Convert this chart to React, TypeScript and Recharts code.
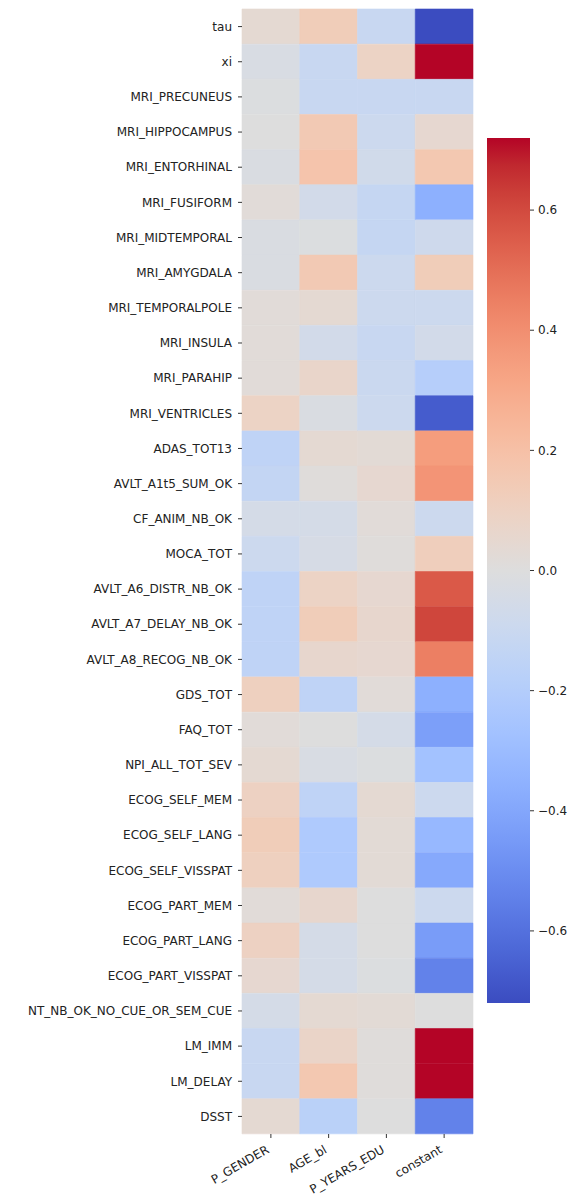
import React from "react";
import { BarChart, Bar, XAxis, YAxis, Cell } from "recharts";

const rowLabels = [
  "tau", "xi", "MRI_PRECUNEUS", "MRI_HIPPOCAMPUS", "MRI_ENTORHINAL", "MRI_FUSIFORM",
  "MRI_MIDTEMPORAL", "MRI_AMYGDALA", "MRI_TEMPORALPOLE", "MRI_INSULA", "MRI_PARAHIP",
  "MRI_VENTRICLES", "ADAS_TOT13", "AVLT_A1t5_SUM_OK", "CF_ANIM_NB_OK", "MOCA_TOT",
  "AVLT_A6_DISTR_NB_OK", "AVLT_A7_DELAY_NB_OK", "AVLT_A8_RECOG_NB_OK", "GDS_TOT", "FAQ_TOT",
  "NPI_ALL_TOT_SEV", "ECOG_SELF_MEM", "ECOG_SELF_LANG", "ECOG_SELF_VISSPAT", "ECOG_PART_MEM",
  "ECOG_PART_LANG", "ECOG_PART_VISSPAT", "NT_NB_OK_NO_CUE_OR_SEM_CUE", "LM_IMM", "LM_DELAY", "DSST",
];
const colLabels = ["P_GENDER", "AGE_bl", "P_YEARS_EDU", "constant"];

const genderVals = [
  0.04, -0.03, -0.01, 0.0, -0.02, 0.02, -0.02, -0.02, 0.02, 0.02, 0.02, 0.09,
  -0.15, -0.13, -0.05, -0.09, -0.15, -0.15, -0.15, 0.11, 0.02, 0.04, 0.1, 0.13,
  0.11, 0.02, 0.1, 0.05, -0.05, -0.11, -0.11, 0.04,
];
const ageVals = [
  0.13, -0.11, -0.11, 0.15, 0.18, -0.06, -0.01, 0.15, 0.04, -0.06, 0.07, -0.02,
  0.04, 0.01, -0.05, -0.04, 0.09, 0.13, 0.06, -0.15, 0.0, -0.03, -0.15, -0.22,
  -0.22, 0.06, -0.05, -0.05, 0.04, 0.08, 0.16, -0.17,
];
const eduVals = [
  -0.11, 0.09, -0.11, -0.09, -0.07, -0.12, -0.12, -0.09, -0.09, -0.11, -0.1, -0.09,
  0.03, 0.05, 0.02, 0.01, 0.05, 0.06, 0.05, 0.02, -0.05, -0.01, 0.04, 0.03,
  0.03, 0.0, 0.0, -0.01, 0.03, 0.01, 0.01, 0.0,
];
const constantVals = [
  -0.72, 0.72, -0.11, 0.05, 0.16, -0.36, -0.08, 0.13, -0.09, -0.06, -0.19, -0.67,
  0.35, 0.38, -0.09, 0.12, 0.56, 0.61, 0.45, -0.36, -0.43, -0.27, -0.09, -0.32,
  -0.39, -0.09, -0.44, -0.54, 0.0, 0.72, 0.72, -0.54,
];

const vmin = -0.72;
const vmax = 0.72;
const cbTicks = [-0.6, -0.4, -0.2, 0.0, 0.2, 0.4, 0.6];

// coolwarm (Moreland) control points
const coolwarm: number[][] = [
  [59, 76, 192], [68, 90, 204], [77, 104, 215], [87, 117, 225], [98, 130, 234],
  [108, 142, 241], [119, 154, 247], [130, 165, 251], [141, 176, 254], [152, 185, 255],
  [163, 194, 255], [174, 201, 253], [184, 208, 249], [194, 213, 244], [204, 217, 238],
  [213, 219, 230], [221, 221, 221], [229, 216, 209], [236, 211, 197], [241, 204, 184],
  [245, 196, 172], [247, 187, 159], [247, 177, 147], [247, 166, 134], [244, 154, 123],
  [241, 141, 111], [236, 127, 99], [229, 112, 88], [222, 96, 77], [213, 80, 66],
  [203, 62, 56], [192, 40, 47], [180, 4, 38],
];

function colorAt(t: number) {
  const c = Math.max(0, Math.min(1, t)) * (coolwarm.length - 1);
  const i = Math.min(Math.floor(c), coolwarm.length - 2);
  const f = c - i;
  const a = coolwarm[i];
  const b = coolwarm[i + 1];
  const ch = (k: number) => Math.round(a[k] + (b[k] - a[k]) * f);
  return `rgb(${ch(0)},${ch(1)},${ch(2)})`;
}

function valueColor(v: number) {
  return colorAt((v - vmin) / (vmax - vmin));
}

const columns = [genderVals, ageVals, eduVals, constantVals];
const colKeys = ["c0", "c1", "c2", "c3"];

const heatData = rowLabels.map((name) => ({ name, c0: 1, c1: 1, c2: 1, c3: 1 }));
const cbData = [{ name: "cb", range: [vmin, vmax] }];

const fontFamily = "DejaVu Sans, sans-serif";

function XTick(props: any) {
  const { x, y, payload } = props;
  const label = colLabels[Math.floor(payload.value)];
  return (
    <g transform={`translate(${x - 1},${y + 12})`}>
      <text
        x={0}
        y={0}
        textAnchor="end"
        transform="rotate(-30)"
        fontSize={12}
        fontFamily={fontFamily}
        fill="#222"
      >
        {label}
      </text>
    </g>
  );
}

const fmtTick = (v: number) => {
  const s = Math.abs(v).toFixed(1);
  return v < -0.001 ? "\u2212" + s : s;
};

export default function App() {
  return (
    <div style={{ position: "absolute", left: 0, top: 0, width: 575, height: 1201, background: "#fff" }}>
      <div style={{ position: "absolute", left: 0, top: 0 }}>
        <BarChart
          width={480}
          height={1201}
          data={heatData}
          layout="vertical"
          barCategoryGap={0}
          margin={{ top: 9, right: 7, bottom: 0, left: 0 }}
        >
          <XAxis
            type="number"
            domain={[0, 4]}
            ticks={[0.5, 1.5, 2.5, 3.5]}
            height={67}
            axisLine={false}
            tickSize={4}
            tickMargin={2}
            tickLine={{ stroke: "#333" }}
            tick={<XTick />}
            interval={0}
          />
          <YAxis
            type="category"
            dataKey="name"
            width={242}
            axisLine={false}
            tickSize={4}
            tickMargin={6}
            tickLine={{ stroke: "#333" }}
            interval={0}
            tick={{ fontSize: 12, fontFamily, fill: "#222" }}
          />
          {colKeys.map((key, ci) => (
            <Bar key={key} dataKey={key} stackId="s" isAnimationActive={false}>
              {columns[ci].map((v, ri) => (
                <Cell key={ri} fill={valueColor(v)} stroke={valueColor(v)} strokeWidth={0.6} />
              ))}
            </Bar>
          ))}
        </BarChart>
      </div>
      <div style={{ position: "absolute", left: 480, top: 0 }}>
        <BarChart
          width={95}
          height={1201}
          data={cbData}
          barCategoryGap={0}
          margin={{ top: 138, right: 0, bottom: 198, left: 7 }}
        >
          <defs>
            <linearGradient id="cwGrad" x1="0" y1="0" x2="0" y2="1">
              {coolwarm.map((_, i) => (
                <stop
                  key={i}
                  offset={`${(i / (coolwarm.length - 1)) * 100}%`}
                  stopColor={colorAt(1 - i / (coolwarm.length - 1))}
                />
              ))}
            </linearGradient>
          </defs>
          <XAxis dataKey="name" hide />
          <YAxis
            orientation="right"
            type="number"
            domain={[vmin, vmax]}
            ticks={cbTicks}
            width={45}
            axisLine={false}
            tickSize={4}
            tickMargin={4}
            tickLine={{ stroke: "#333" }}
            tickFormatter={fmtTick}
            interval={0}
            tick={{ fontSize: 12, fontFamily, fill: "#222", textAnchor: "start" }}
          />
          <Bar dataKey="range" fill="url(#cwGrad)" isAnimationActive={false} />
        </BarChart>
      </div>
    </div>
  );
}
